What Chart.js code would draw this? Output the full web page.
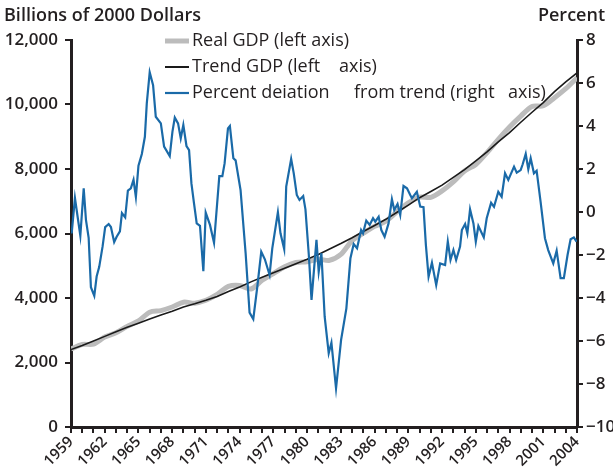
<!DOCTYPE html>
<html>
<head>
<meta charset="utf-8">
<script src="https://cdn.jsdelivr.net/npm/chart.js@4.4.1/dist/chart.umd.min.js"></script>
<style>
  html, body { margin: 0; padding: 0; background: #fff; }
</style>
</head>
<body>
<canvas id="gdpChart" width="613" height="474"></canvas>
<script>
// annual points for the two GDP lines (billions of 2000 dollars)
const gdpYears = [1959, 1960, 1961, 1962, 1963, 1964, 1965, 1966, 1967, 1968, 1969, 1970, 1971, 1972, 1973, 1974,
  1975, 1976, 1977, 1978, 1979, 1980, 1981, 1982, 1983, 1984, 1985, 1986, 1987, 1988, 1989, 1990, 1991, 1992,
  1993, 1994, 1995, 1996, 1997, 1998, 1999, 2000, 2001, 2002, 2003, 2004];
const realGdp = [2420, 2560, 2570, 2790, 2920, 3120, 3290, 3560, 3610, 3720, 3870, 3840, 3930, 4110, 4360, 4390,
  4280, 4550, 4760, 4970, 5100, 5120, 5200, 5170, 5350, 5780, 6010, 6220, 6380, 6680, 6950, 7130, 7120, 7320,
  7600, 7940, 8140, 8510, 8920, 9300, 9640, 9940, 9960, 10210, 10490, 10830];
const trendGdp = [2400, 2530, 2670, 2810, 2950, 3090, 3220, 3350, 3470, 3590, 3720, 3820, 3930, 4050, 4200, 4340,
  4500, 4640, 4780, 4920, 5060, 5200, 5350, 5520, 5690, 5870, 6060, 6250, 6440, 6660, 6880, 7110, 7300, 7500,
  7740, 7980, 8250, 8530, 8840, 9130, 9450, 9760, 10060, 10400, 10700, 10980];

// percent deviation from trend (right axis)
const devYears = [1959.06, 1959.35, 1959.83, 1960.13, 1960.33, 1960.57, 1960.77, 1961.07, 1961.28, 1961.51,
  1961.81, 1962.04, 1962.35, 1962.55, 1962.84, 1963.06, 1963.35, 1963.53, 1963.82, 1964.06, 1964.32, 1964.56,
  1964.77, 1965.0, 1965.3, 1965.57, 1965.74, 1966.0, 1966.3, 1966.54, 1966.99, 1967.28, 1967.78, 1968.02,
  1968.23, 1968.52, 1968.76, 1968.99, 1969.27, 1969.5, 1969.71, 1969.94, 1970.18, 1970.47, 1970.77, 1970.98,
  1971.36, 1971.72, 1972.19, 1972.46, 1972.66, 1972.96, 1973.13, 1973.44, 1973.64, 1974.08, 1974.53, 1974.88,
  1975.21, 1975.57, 1975.92, 1976.24, 1976.66, 1976.9, 1977.4, 1977.63, 1977.96, 1978.14, 1978.58, 1978.81,
  1979.08, 1979.32, 1979.65, 1979.85, 1980.15, 1980.39, 1980.83, 1981.03, 1981.27, 1981.56, 1981.92, 1982.16,
  1982.57, 1983.02, 1983.49, 1983.85, 1984.14, 1984.44, 1984.8, 1984.97, 1985.26, 1985.56, 1985.86, 1986.06,
  1986.36, 1986.6, 1986.89, 1987.24, 1987.54, 1987.75, 1988.04, 1988.28, 1988.57, 1988.88, 1989.17, 1989.32,
  1989.76, 1990.06, 1990.35, 1990.56, 1990.8, 1991.1, 1991.48, 1991.83, 1992.27, 1992.51, 1992.75, 1993.01,
  1993.25, 1993.6, 1993.76, 1994.05, 1994.25, 1994.49, 1994.79, 1995.0, 1995.23, 1995.71, 1995.97, 1996.36,
  1996.62, 1997.0, 1997.3, 1997.6, 1997.89, 1998.4, 1998.64, 1998.99, 1999.17, 1999.44, 1999.67, 1999.88,
  2000.17, 2000.41, 2000.76, 2001.15, 2001.44, 2001.89, 2002.19, 2002.54, 2002.83, 2003.16, 2003.43, 2003.72,
  2003.96];
const devValues = [-1.0, 0.65, -1.1, 1.1, -0.37, -1.2, -3.5, -3.9, -3.0, -2.55,
  -1.6, -0.7, -0.56, -0.7, -1.4, -1.15, -0.9, -0.05, -0.25, 1.0, 1.1, 1.5,
  0.7, 2.15, 2.7, 3.5, 5.05, 6.5, 5.9, 4.43, 4.12, 3.04, 2.6, 3.73,
  4.39, 4.12, 3.43, 4.05, 3.07, 2.88, 1.33, 0.4, -0.53, -0.64, -2.75, -0.03,
  -0.6, -1.43, 1.67, 1.67, 2.26, 3.89, 4.0, 2.5, 2.4, 1.02, -1.92, -4.68,
  -4.98, -3.47, -1.85, -2.2, -2.93, -1.69, -0.01, -0.99, -1.73, 1.18, 2.47, 1.8,
  0.79, 0.56, 0.74, 0.12, -2.0, -4.09, -1.3, -2.78, -1.92, -4.87, -6.57, -6.08,
  -8.2, -5.95, -4.48, -2.15, -1.49, -1.69, -0.84, -0.99, -0.4, -0.6, -0.29, -0.45,
  -0.22, -0.84, -1.15, -0.53, 0.59, 0.09, 0.37, -0.14, 1.21, 1.1, 0.79, 0.64,
  0.94, 0.25, 0.22, -1.53, -3.01, -2.36, -3.4, -2.39, -2.47, -1.37, -2.23, -1.77,
  -2.23, -1.61, -0.84, -0.56, -0.99, 0.12, -0.53, -1.38, -0.65, -1.18, -0.29, 0.43,
  0.24, 0.94, 0.71, 1.8, 1.49, 2.11, 1.83, 1.95, 2.22, 2.7, 1.99, 2.5,
  1.8, 1.92, 0.48, -1.22, -1.77, -2.39, -1.8, -3.08, -3.08, -2.0, -1.27, -1.18,
  -1.38];

// legend text is split into pieces, the original has odd gaps in it
const legendItems = [
  { pieces: [['Real GDP (left axis)', 192]], color: '#bcbcbc', width: 5 },
  { pieces: [['Trend GDP (left', 192], ['axis)', 339]], color: '#1a1a1a', width: 2 },
  { pieces: [['Percent deiation', 192], ['from trend (right', 354], ['axis)', 508]], color: '#1a6aa8', width: 2.2 }
];

const toPoints = (xs, ys) => xs.map((x, i) => ({ x: x, y: ys[i] }));
const textColor = '#231f20';
const fontFamily = "'Open Sans', 'Noto Sans', sans-serif";

// axis titles and the legend are drawn by hand, the legend sits inside the plot
const labelsPlugin = {
  id: 'labels',
  afterDraw(chart) {
    const ctx = chart.ctx;
    ctx.save();
    ctx.fillStyle = textColor;
    ctx.textBaseline = 'middle';
    ctx.font = '600 18px ' + fontFamily;
    ctx.textAlign = 'left';
    ctx.fillText('Billions of 2000 Dollars', 4, 16);
    ctx.textAlign = 'right';
    ctx.fillText('Percent', 605, 16);

    ctx.font = '18px ' + fontFamily;
    ctx.textAlign = 'left';
    legendItems.forEach((item, i) => {
      const y = 41 + i * 26;
      ctx.beginPath();
      ctx.strokeStyle = item.color;
      ctx.lineWidth = item.width;
      ctx.moveTo(165, y);
      ctx.lineTo(189, y);
      ctx.stroke();
      item.pieces.forEach(([txt, x]) => ctx.fillText(txt, x, y));
    });
    ctx.restore();
  }
};

const axisGrid = { display: true, drawOnChartArea: false, drawTicks: true, tickLength: 6, color: '#231f20', lineWidth: 2 };
const axisBorder = { display: true, color: '#231f20', width: 3 };
const tickFont = { family: fontFamily, size: 17, weight: '600' };

new Chart(document.getElementById('gdpChart'), {
  type: 'line',
  data: {
    datasets: [
      {
        label: 'Percent deviation from trend (right axis)',
        data: toPoints(devYears, devValues),
        yAxisID: 'yRight',
        borderColor: '#1a6aa8',
        borderWidth: 2.2,
        pointRadius: 0,
        tension: 0,
        order: 0
      },
      {
        label: 'Trend GDP (left axis)',
        data: toPoints(gdpYears, trendGdp),
        yAxisID: 'yLeft',
        borderColor: '#1a1a1a',
        borderWidth: 1.6,
        pointRadius: 0,
        tension: 0,
        order: 1
      },
      {
        label: 'Real GDP (left axis)',
        data: toPoints(gdpYears, realGdp),
        yAxisID: 'yLeft',
        borderColor: '#bcbcbc',
        borderWidth: 5,
        pointRadius: 0,
        tension: 0.3,
        order: 2
      }
    ]
  },
  options: {
    responsive: false,
    animation: false,
    devicePixelRatio: 1,
    layout: { padding: { top: 40, left: 0, right: 0, bottom: 0 } },
    plugins: { legend: { display: false }, tooltip: { enabled: false } },
    scales: {
      x: {
        type: 'linear',
        position: 'bottom',
        min: 1959,
        max: 2004,
        grid: axisGrid,
        border: axisBorder,
        afterFit: (s) => { s.height = 47; },
        ticks: {
          stepSize: 1,
          autoSkip: false,
          maxTicksLimit: 100,
          minRotation: 45,
          maxRotation: 45,
          padding: 0,
          color: textColor,
          font: { family: fontFamily, size: 15, weight: '600' },
          callback: (v) => ((v - 1959) % 3 === 0 ? String(v) : '')
        }
      },
      yLeft: {
        position: 'left',
        min: 0,
        max: 12000,
        grid: axisGrid,
        border: axisBorder,
        afterFit: (s) => { s.width = 71; },
        ticks: {
          stepSize: 2000,
          padding: 7,
          color: textColor,
          font: tickFont,
          callback: (v) => v.toLocaleString('en-US')
        }
      },
      yRight: {
        position: 'right',
        min: -10,
        max: 8,
        grid: axisGrid,
        border: axisBorder,
        afterFit: (s) => { s.width = 36; },
        ticks: {
          stepSize: 2,
          padding: 3,
          color: textColor,
          font: tickFont,
          callback: (v) => (v < 0 ? '\u2212' + Math.abs(v) : String(v))
        }
      }
    }
  },
  plugins: [labelsPlugin]
});
</script>
</body>
</html>
